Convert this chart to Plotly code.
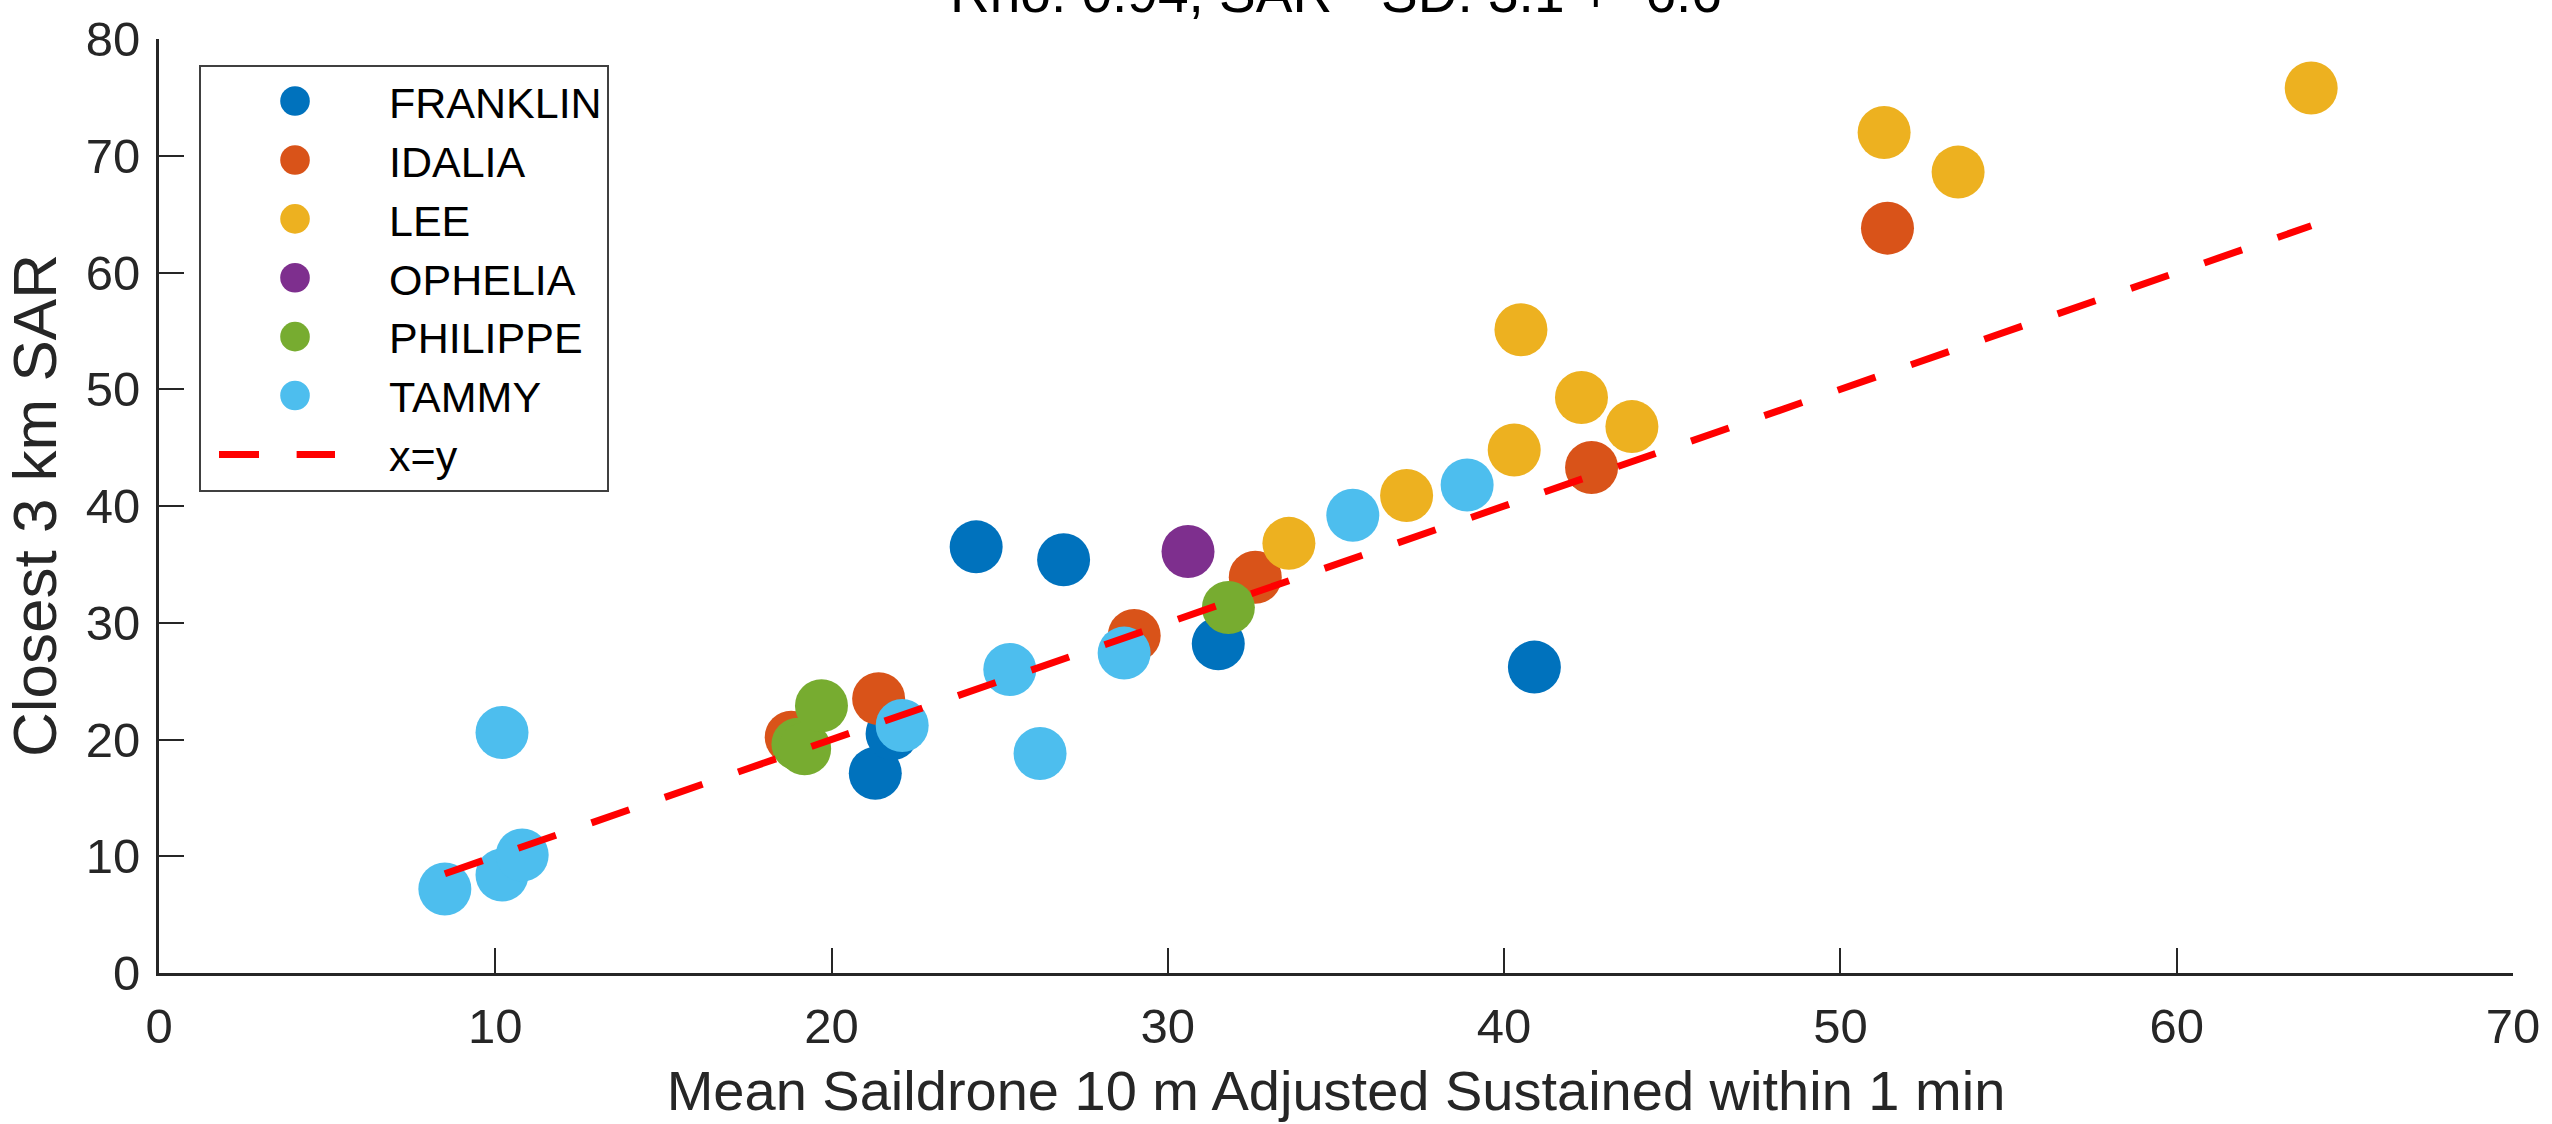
import plotly.graph_objects as go

# ---- data ----
storms = ["FRANKLIN", "IDALIA", "LEE", "OPHELIA", "PHILIPPE", "TAMMY"]
colors = ["#0072BD", "#D95319", "#EDB120", "#7E2F8E", "#77AC30", "#4DBEEE"]

franklin_x = [24.3, 26.9, 31.5, 40.9, 21.3, 21.8]
franklin_y = [36.5, 35.4, 28.2, 26.2, 17.1, 20.5]
idalia_x = [18.8, 21.4, 29.0, 32.6, 42.6, 51.4]
idalia_y = [20.2, 23.5, 28.9, 33.9, 43.3, 63.8]
lee_x = [33.6, 37.1, 40.3, 40.5, 42.3, 43.8, 51.3, 53.5, 64.0]
lee_y = [36.8, 40.9, 44.8, 55.1, 49.3, 46.8, 72.0, 68.6, 75.8]
ophelia_x = [30.6]
ophelia_y = [36.1]
philippe_x = [19.0, 19.2, 19.7, 31.8]
philippe_y = [19.6, 19.2, 22.9, 31.3]
tammy_x = [8.5, 10.2, 10.8, 10.2, 22.1, 25.3, 26.2, 28.7, 35.5, 38.9]
tammy_y = [7.2, 8.4, 10.1, 20.6, 21.2, 26.0, 18.8, 27.4, 39.2, 41.8]

series_x = [franklin_x, idalia_x, lee_x, ophelia_x, philippe_x, tammy_x]
series_y = [franklin_y, idalia_y, lee_y, ophelia_y, philippe_y, tammy_y]

title_text = "Rho: 0.94, SAR - SD: 3.1 +- 6.6"
x_label = "Mean Saildrone 10 m Adjusted Sustained within 1 min"
y_label = "Closest 3 km SAR"
x_ticks = [0, 10, 20, 30, 40, 50, 60, 70]
y_ticks = [0, 10, 20, 30, 40, 50, 60, 70, 80]

all_x = [v for s in series_x for v in s]
line_x = [min(all_x), max(all_x)]
line_y = line_x[:]

FONT = "Liberation Sans, Arial, Helvetica, sans-serif"
AX = "#262626"

fig = go.Figure()
for name, col, xs, ys in zip(storms, colors, series_x, series_y):
    fig.add_trace(go.Scatter(
        x=xs, y=ys, mode="markers", name=name,
        marker=dict(color=col, size=53, line=dict(width=0)),
    ))
fig.add_trace(go.Scatter(
    x=line_x, y=line_y, mode="lines", name="x=y",
    line=dict(color="#FF0000", width=7, dash="40px,37.6px"),
))

fig.update_layout(
    width=2552, height=1124,
    margin=dict(l=159, r=38, t=27, b=149),
    paper_bgcolor="white", plot_bgcolor="white",
    font=dict(family=FONT, color=AX),
    title=dict(text=title_text, x=0.5, xref="paper", xanchor="center",
               y=1 - 12 / 1124, yref="container", yanchor="bottom",
               font=dict(size=55, color="#000000", family=FONT)),
    showlegend=True,
    legend=dict(x=0.017, y=0.9726, xanchor="left", yanchor="top",
                bgcolor="white", bordercolor="#404040", borderwidth=2,
                font=dict(size=43, color="#000000", family=FONT),
                itemwidth=178),
    annotations=[dict(
        text=y_label, textangle=-90, xref="paper", yref="paper",
        x=(34 - 159) / 2355, y=0.5,
        xanchor="center", yanchor="middle", showarrow=False,
        font=dict(size=62, color=AX, family=FONT),
    )],
)
fig.update_xaxes(
    range=[0, 70.001], tickvals=x_ticks, ticks="inside", ticklen=25, tickwidth=2,
    tickcolor=AX, showline=True, linecolor=AX, linewidth=3, showgrid=False,
    zeroline=False, tickfont=dict(size=49, color=AX), ticklabelstandoff=8,
    title=dict(text=x_label, font=dict(size=56, color=AX), standoff=20),
)
fig.update_yaxes(
    range=[0, 80.001], tickvals=y_ticks, ticks="inside", ticklen=25, tickwidth=2,
    tickcolor=AX, showline=True, linecolor=AX, linewidth=3, showgrid=False,
    zeroline=False, tickfont=dict(size=49, color=AX), ticklabelstandoff=6,
)

post = """
document.body.style.margin = '0';
document.body.style.padding = '0';
var gd = document.getElementById('{plot_id}');
function tweakLegend(){
  gd.querySelectorAll('.legend .legendpoints path.scatterpts').forEach(function(p){
    var t = p.getAttribute('transform') || '';
    if (t.indexOf('scale') < 0) { p.setAttribute('transform', t + ' scale(1.85)'); }
  });
  gd.querySelectorAll('.legend .legendlines path').forEach(function(p){
    p.setAttribute('d', 'M18,0h116');
  });
}
tweakLegend();
gd.on('plotly_afterplot', tweakLegend);
"""
fig.write_html("out.html", post_script=post,
               config={"displayModeBar": False, "staticPlot": True})
